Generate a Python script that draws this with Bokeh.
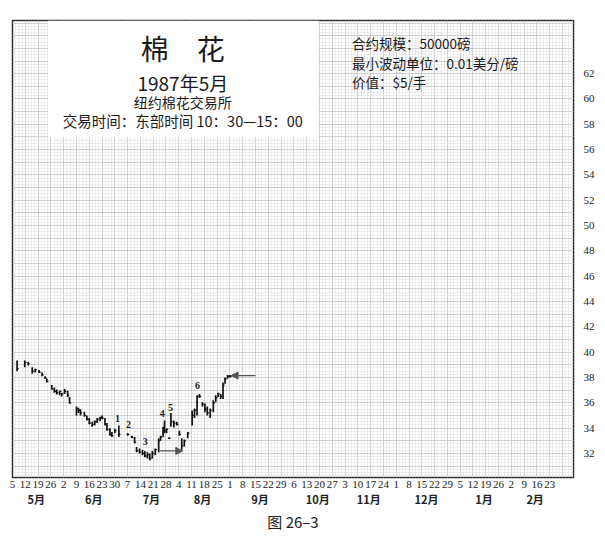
import numpy as np
from bokeh.plotting import figure
from bokeh.models import (Range1d, LinearAxis, FixedTicker, SingleIntervalTicker,
                          BoxAnnotation, Label, Title, Arrow, NormalHead, ColumnDataSource)
from bokeh.embed import file_html
from bokeh.resources import INLINE
from bokeh.core.properties import value

# ---------------- data ----------------
# weekly (Monday) labels starting 1986-05-05, day offsets are days since 5 May
week_labels = ["5", "12", "19", "26",
               "2", "9", "16", "23", "30",
               "7", "14", "21", "28",
               "4", "11", "18", "25",
               "1", "8", "15", "22", "29",
               "6", "13", "20", "27",
               "3", "10", "17", "24",
               "1", "8", "15", "22", "29",
               "5", "12", "19", "26",
               "2", "9", "16", "23"]
weeks_per_month = [4, 5, 4, 4, 5, 4, 4, 5, 4, 4]
month_names = ["5月", "6月", "7月", "8月", "9月", "10月", "11月", "12月", "1月", "2月"]
price_ticks = list(range(32, 63, 2))

bar_day = [2.5, 6.7, 8.6, 10.8, 12.4, 14.5, 16.2, 17.8, 18.8, 21.5,
           22.9, 24.2, 25.8, 26.9, 28.5, 30.2, 31.2, 35.0, 36.1, 37.2,
           39.3, 40.7, 42.0, 43.6, 45.0, 46.3, 47.9, 49.0, 50.6, 51.7,
           53.3, 54.4, 56.0, 58.2, 63.0, 65.2, 66.8, 67.9, 69.5, 71.1,
           72.4, 73.8, 75.1, 76.5, 78.1, 80.0, 81.0, 82.4, 83.2, 84.3,
           85.6, 86.7, 88.3, 89.9, 91.3, 92.6, 94.0, 95.9, 98.3, 99.6,
           101.0, 102.3, 103.9, 105.3, 106.6, 108.2, 109.9, 111.2, 112.5, 113.9,
           115.2, 116.3, 117.7, 119.0]
bar_high = [39.35, 39.35, 39.25, 38.8, 38.7, 38.6, 38.4, 38.1, 37.9, 37.4,
            37.2, 37.05, 36.95, 36.8, 37.1, 36.95, 36.45, 35.7, 35.6, 35.5,
            35.3, 35.0, 34.8, 34.5, 34.6, 34.8, 34.9, 35.0, 34.8, 34.4,
            34.0, 33.7, 33.95, 34.2, 33.6, 33.4, 33.3, 32.5, 32.4, 32.3,
            32.2, 32.1, 32.0, 32.2, 32.4, 33.2, 33.4, 34.1, 34.6, 34.0,
            33.25, 35.2, 34.6, 34.5, 33.8, 33.2, 33.1, 33.7, 35.4, 35.55,
            36.6, 36.7, 36.05, 35.95, 35.7, 35.55, 36.2, 36.6, 36.8, 36.7,
            37.6, 38.0, 38.2, 38.2]
bar_low = [38.5, 38.8, 38.95, 38.3, 38.4, 38.35, 38.1, 37.9, 37.6, 37.05,
           36.8, 36.65, 36.6, 36.5, 36.7, 36.45, 35.95, 35.0, 35.2, 35.0,
           34.9, 34.6, 34.3, 34.1, 34.2, 34.4, 34.55, 34.7, 34.2, 33.8,
           33.4, 33.3, 33.6, 33.3, 33.4, 33.2, 32.8, 32.1, 32.0, 31.85,
           31.7, 31.6, 31.45, 31.6, 31.85, 32.1, 33.0, 33.3, 33.6, 33.6,
           33.15, 34.1, 34.05, 34.2, 33.4, 32.3, 32.55, 33.2, 34.2, 34.8,
           35.0, 36.4, 35.7, 35.25, 35.0, 34.8, 35.25, 36.05, 36.45, 36.3,
           36.3, 37.5, 37.9, 38.0]
bar_close = [38.7, 39.2, 39.1, 38.5, 38.6, 38.4, 38.2, 37.95, 37.7, 37.1,
             36.9, 36.8, 36.9, 36.7, 36.9, 36.6, 36.0, 35.5, 35.4, 35.2,
             35.0, 34.7, 34.4, 34.3, 34.5, 34.7, 34.8, 34.8, 34.3, 33.9,
             33.5, 33.4, 33.8, 33.5, 33.5, 33.3, 32.9, 32.2, 32.1, 32.0,
             31.8, 31.9, 31.6, 32.0, 32.3, 33.0, 33.3, 34.0, 33.8, 33.9,
             33.2, 34.5, 34.4, 34.3, 33.5, 32.6, 33.0, 33.6, 35.0, 35.4,
             36.5, 36.5, 35.9, 35.5, 35.2, 35.4, 36.0, 36.4, 36.7, 36.5,
             37.4, 37.9, 38.1, 38.1]

wave_names = ["1", "2", "3", "4", "5", "6"]
wave_day = [57.4, 63.5, 72.7, 81.9, 86.5, 101.2]
wave_price = [34.8, 34.25, 32.95, 35.15, 35.65, 37.4]

# ---------------- figure ----------------
p = figure(width=597, height=545, output_backend="svg", toolbar_location=None,
           x_range=Range1d(0, 307), y_range=Range1d(30.1, 66.2),
           y_axis_location="right",
           min_border_left=12, min_border_top=20, min_border_right=14, min_border_bottom=68,
           background_fill_color="white", border_fill_color="white")
p.outline_line_color = "#2a2a2a"
p.outline_line_width = 1.5

# grid
p.ygrid.ticker = SingleIntervalTicker(interval=1, num_minor_ticks=4)
p.xgrid.ticker = SingleIntervalTicker(interval=7, num_minor_ticks=4)
for g in (p.xgrid[0], p.ygrid[0]):
    g.grid_line_color = "#c6c6c6"
    g.grid_line_width = 0.8
    g.minor_grid_line_color = "#e3e3e3"
    g.minor_grid_line_width = 0.6

# week axis
week_days = [7 * i for i in range(len(week_labels))]
xa = p.xaxis[0]
xa.ticker = FixedTicker(ticks=week_days)
xa.major_label_overrides = {d: s for d, s in zip(week_days, week_labels)}
xa.axis_line_color = None
xa.major_tick_line_color = None
xa.minor_tick_line_color = None
xa.major_label_standoff = -3
xa.major_label_text_font = "Liberation Serif"
xa.major_label_text_font_size = "11px"
xa.major_label_text_color = "#222222"

# month axis
month_pos = []
k = 0
for n in weeks_per_month:
    days = week_days[k:k + n]
    month_pos.append(float(np.mean(days)) + 2.5)
    k += n
ma = LinearAxis(ticker=FixedTicker(ticks=month_pos),
                major_label_overrides={m: s for m, s in zip(month_pos, month_names)})
ma.axis_line_color = None
ma.major_tick_line_color = None
ma.minor_tick_line_color = None
ma.major_label_standoff = -6
ma.major_label_text_font = "Noto Sans CJK SC"
ma.major_label_text_font_style = "bold"
ma.major_label_text_font_size = "11px"
ma.major_label_text_color = "#222222"
p.add_layout(ma, "below")

# price axis
ya = p.yaxis[0]
ya.ticker = FixedTicker(ticks=price_ticks)
ya.axis_line_color = None
ya.major_tick_line_color = None
ya.minor_tick_line_color = None
ya.major_label_standoff = 4
ya.major_label_text_font = "Liberation Serif"
ya.major_label_text_font_size = "11px"
ya.major_label_text_color = "#222222"

# caption
cap = Title(text="图 26–3", align="center", text_font="Noto Sans CJK SC",
            text_font_size="15px", text_font_style="normal", text_color="#222222",
            standoff=-2)
p.add_layout(cap, "below")

# ---------------- bars ----------------
d = np.array(bar_day)
src = ColumnDataSource(dict(x=d, hi=bar_high, lo=bar_low, cl=bar_close, xr=d + 0.9))
p.segment(x0="x", x1="x", y0="lo", y1="hi", source=src, line_color="#111111", line_width=1.7)
p.segment(x0="x", x1="xr", y0="cl", y1="cl", source=src, line_color="#111111", line_width=1.3)

p.text(x=wave_day, y=wave_price, text=wave_names, text_font=value("Liberation Serif"),
       text_font_size="10px", text_align="center", text_baseline="middle",
       text_color="#222222", text_font_style="bold")

# arrows
head1 = NormalHead(size=7, fill_color="#555555", line_color="#555555")
p.add_layout(Arrow(end=head1, x_start=133, y_start=38.15, x_end=119.6, y_end=38.15,
                   line_color="#555555", line_width=1.3))
head2 = NormalHead(size=7, fill_color="#555555", line_color="#555555")
p.add_layout(Arrow(end=head2, x_start=80.8, y_start=32.2, x_end=93.2, y_end=32.2,
                   line_color="#555555", line_width=1.3))

# ---------------- title box and texts ----------------
p.add_layout(BoxAnnotation(left=19.4, right=167.5, bottom=56.95,
                           fill_color="white", fill_alpha=1.0, line_color=None))

cjk = "Noto Sans CJK SC"
def lab(x, y, t, size, align="center", style="normal"):
    p.add_layout(Label(x=x, y=y, text=t, text_font=cjk, text_font_size=size,
                       text_align=align, text_baseline="middle", text_color="#1a1a1a",
                       text_font_style=style))

lab(93.2, 64.0, "棉　花", "28px")
lab(93.2, 61.3, "1987年5月", "19px")
lab(93.2, 59.75, "纽约棉花交易所", "14px")
lab(93.2, 58.3, "交易时间：东部时间 10：30—15：00", "14.5px")

lab(185.8, 64.4, "合约规模：50000磅", "13.5px", align="left")
lab(185.8, 62.87, "最小波动单位：0.01美分/磅", "13.5px", align="left")
lab(185.8, 61.37, "价值：$5/手", "13.5px", align="left")

open("out.html", "w").write(file_html(p, INLINE))
